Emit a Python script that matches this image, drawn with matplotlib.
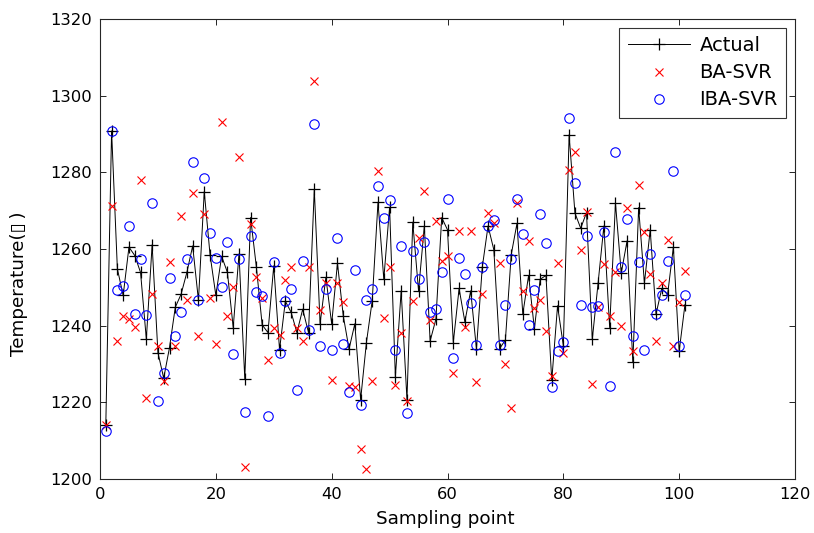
import matplotlib
matplotlib.use("Agg")
import matplotlib.pyplot as plt
import numpy as np

plt.rcParams['font.family'] = ['DejaVu Sans']

sample_idx = list(range(1, 102))

actual = [1214.0, 1290.8, 1254.8, 1247.9, 1260.5, 1258.3, 1253.9, 1236.5, 1261.1, 1233.0,
          1226.3, 1234.3, 1244.8, 1248.2, 1253.9, 1260.8, 1246.6, 1275.0, 1258.5, 1247.9,
          1258.1, 1253.9, 1239.5, 1258.7, 1226.1, 1268.2, 1255.3, 1240.2, 1238.2, 1255.6,
          1233.7, 1246.4, 1243.5, 1238.2, 1244.3, 1238.2, 1275.6, 1240.5, 1252.6, 1240.5,
          1256.3, 1242.6, 1233.9, 1240.5, 1220.7, 1235.6, 1246.5, 1272.2, 1252.1, 1270.9,
          1226.6, 1249.1, 1220.7, 1267.0, 1249.1, 1266.0, 1236.0, 1241.7, 1268.2, 1265.0,
          1235.6, 1249.7, 1241.0, 1249.1, 1233.9, 1255.2, 1266.0, 1259.8, 1234.0, 1236.3,
          1258.5, 1266.7, 1243.0, 1253.1, 1239.2, 1252.1, 1253.1, 1225.7, 1245.2, 1234.8,
          1289.8, 1269.4, 1265.4, 1269.5, 1236.4, 1251.1, 1266.0, 1239.5, 1272.0, 1253.7,
          1262.1, 1230.4, 1270.8, 1251.1, 1265.0, 1243.0, 1249.7, 1248.1, 1260.5, 1233.3,
          1245.5]

ba_svr = [1214.0, 1271.3, 1236.0, 1242.4, 1241.7, 1239.6, 1277.9, 1221.1, 1248.3, 1234.8,
          1225.5, 1256.6, 1234.8, 1268.5, 1246.6, 1274.7, 1237.2, 1269.1, 1247.3, 1235.2,
          1293.1, 1242.6, 1250.0, 1284.1, 1203.1, 1266.5, 1252.8, 1247.3, 1231.0, 1239.5,
          1237.6, 1252.0, 1255.3, 1239.4, 1235.9, 1255.4, 1303.9, 1244.2, 1251.1, 1225.8,
          1251.1, 1246.2, 1224.3, 1224.0, 1207.7, 1202.7, 1225.6, 1280.4, 1242.0, 1255.3,
          1224.5, 1238.1, 1220.3, 1246.5, 1263.0, 1275.2, 1241.5, 1267.4, 1256.9, 1258.3,
          1227.6, 1264.7, 1239.6, 1264.7, 1225.4, 1248.2, 1269.3, 1266.7, 1256.3, 1230.0,
          1218.5, 1272.0, 1249.0, 1262.0, 1244.6, 1246.7, 1238.5, 1226.8, 1256.3, 1232.9,
          1280.6, 1285.2, 1259.7, 1269.7, 1224.8, 1244.8, 1256.0, 1242.5, 1254.0, 1240.0,
          1270.6, 1233.3, 1276.7, 1264.5, 1253.5, 1235.9, 1251.1, 1262.4, 1234.8, 1246.2,
          1254.3]

iba_svr = [1212.4, 1290.8, 1249.4, 1250.4, 1266.0, 1243.1, 1257.4, 1242.7, 1272.0, 1220.4,
           1227.6, 1252.4, 1237.2, 1243.5, 1257.4, 1282.8, 1246.6, 1278.6, 1264.1, 1257.6,
           1250.2, 1261.7, 1232.6, 1257.4, 1217.4, 1263.3, 1248.7, 1247.8, 1216.5, 1256.7,
           1233.0, 1246.5, 1249.6, 1223.1, 1256.9, 1239.0, 1292.5, 1234.8, 1249.6, 1233.7,
           1263.0, 1235.3, 1222.6, 1254.6, 1219.4, 1246.6, 1249.6, 1276.4, 1268.2, 1272.8,
           1233.7, 1260.8, 1217.3, 1259.4, 1252.1, 1261.8, 1243.5, 1244.4, 1253.9, 1273.1,
           1231.6, 1257.7, 1253.5, 1246.0, 1235.0, 1255.3, 1265.9, 1267.5, 1235.0, 1245.4,
           1257.4, 1273.1, 1264.0, 1240.1, 1249.4, 1269.1, 1261.5, 1223.9, 1233.3, 1235.7,
           1294.3, 1277.2, 1245.4, 1263.3, 1244.8, 1245.2, 1264.4, 1224.2, 1285.2, 1255.3,
           1267.8, 1237.2, 1256.7, 1233.7, 1258.7, 1243.1, 1248.1, 1256.9, 1280.4, 1234.8,
           1248.1]

series_labels = ["Actual", "BA-SVR", "IBA-SVR"]
x_ticks = [0, 20, 40, 60, 80, 100, 120]
y_ticks = [1200, 1220, 1240, 1260, 1280, 1300, 1320]
x_label = "Sampling point"
y_label = "Temperature(\u25af\u2009)"

W, H = 814, 533
fig = plt.figure(figsize=(W / 100, H / 100), dpi=100)
ax = fig.add_axes([100 / W, (H - 479) / H, 695 / W, 460 / H])

ax.plot(sample_idx, actual, color='black', linewidth=0.7, marker='+',
        markersize=8.5, markeredgewidth=0.9, label=series_labels[0])
ax.plot(sample_idx, ba_svr, linestyle='none', marker='x', color=(1, 0, 0),
        markersize=6, markeredgewidth=0.8, label=series_labels[1])
ax.plot(sample_idx, iba_svr, linestyle='none', marker='o', markerfacecolor='none',
        markeredgecolor=(0, 0, 1), markersize=6.8, markeredgewidth=0.8,
        label=series_labels[2])

ax.set_xlim(0, 120)
ax.set_ylim(1200, 1320)
ax.set_xticks(x_ticks)
ax.set_yticks(y_ticks)
ax.tick_params(direction='in', length=4, width=0.6, top=True, right=True,
               labelsize=11.8, pad=6, colors='black')
for sp in ax.spines.values():
    sp.set_linewidth(0.8)
    sp.set_color('#262626')

ax.set_xlabel(x_label, fontsize=13.2)
ax.xaxis.set_label_coords(0.497, -0.068)
ax.set_ylabel(y_label, fontsize=13.2)
ax.yaxis.set_label_coords(-0.103, 0.425)

leg = ax.legend(loc='upper right', bbox_to_anchor=(786 / W, 1 - 28 / H),
                bbox_transform=fig.transFigure, borderaxespad=0,
                fontsize=14, frameon=True, fancybox=False, shadow=False,
                handlelength=3.2, handletextpad=0.5, labelspacing=0.42,
                borderpad=0.42, numpoints=1)
leg.get_frame().set_edgecolor('black')
leg.get_frame().set_linewidth(0.8)

fig.savefig("out.png", dpi=100)
